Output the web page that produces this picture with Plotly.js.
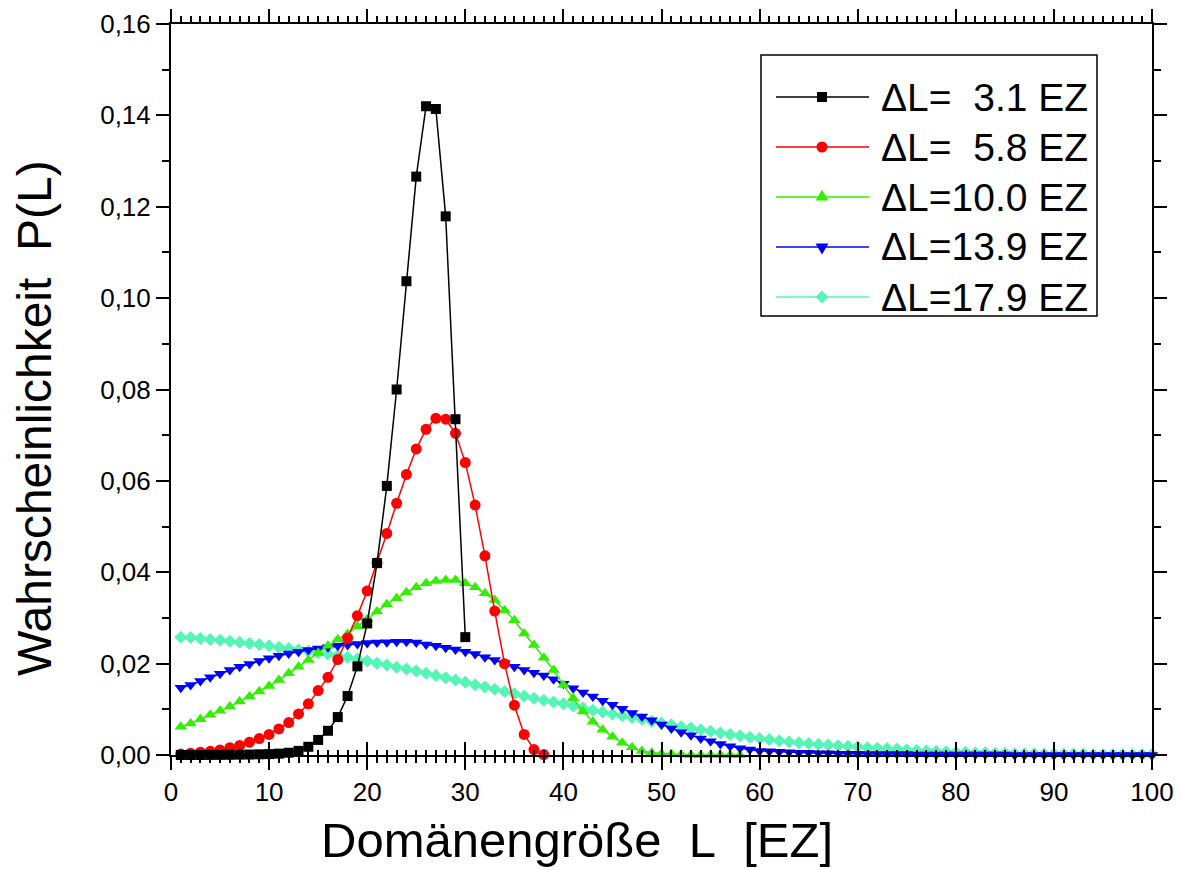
<!DOCTYPE html>
<html><head><meta charset="utf-8">
<script src="https://cdn.plot.ly/plotly-3.0.1.min.js"></script>
<style>html,body{margin:0;padding:0;background:#fff}#chart{width:1183px;height:870px}</style>
</head><body><div id="chart"></div>
<script>
// Domain size L [EZ]
const domainSize = [1,2,3,4,5,6,7,8,9,10,11,12,13,14,15,16,17,18,19,20,21,22,23,24,25,26,27,28,29,30,
  31,32,33,34,35,36,37,38,39,40,41,42,43,44,45,46,47,48,49,50,51,52,53,54,55,56,57,58,59,60,
  61,62,63,64,65,66,67,68,69,70,71,72,73,74,75,76,77,78,79,80,81,82,83,84,85,86,87,88,89,90,
  91,92,93,94,95,96,97,98,99,100];

const seriesNames = ['\u0394L=\u00a0\u00a03.1 EZ','\u0394L=\u00a0\u00a05.8 EZ','\u0394L=10.0 EZ','\u0394L=13.9 EZ','\u0394L=17.9 EZ'];

const p_dL3_1 = [0,0,0,0.00002,0.00003,0.00005,0.00008,0.0001,0.00015,0.0002,0.0003,0.0005,0.0009,0.0018,0.0033,
  0.0053,0.0083,0.0129,0.0194,0.0288,0.0420,0.0589,0.0800,0.1037,0.1266,0.1420,0.1414,0.1179,0.0735,0.0258];

const p_dL5_8 = [0.0002,0.0004,0.0006,0.0008,0.0011,0.0016,0.0021,0.0028,0.0036,0.0045,0.0057,0.0071,0.0090,0.0112,0.0141,
  0.0170,0.0209,0.0256,0.0305,0.0359,0.0421,0.0485,0.0551,0.0614,0.0670,0.0713,0.0737,0.0735,0.0704,0.0640,
  0.0547,0.0436,0.0315,0.0200,0.0109,0.0045,0.0012,0.0001];

const p_dL10_0 = [0.0062,0.0069,0.0078,0.0088,0.0097,0.0106,0.0117,0.0128,0.0139,0.0151,0.0164,0.0179,0.0193,0.0208,0.0223,
  0.0239,0.0253,0.0265,0.0282,0.0297,0.0314,0.0330,0.0343,0.0356,0.0367,0.0376,0.0381,0.0383,0.0383,0.0376,
  0.0367,0.0354,0.0339,0.0317,0.0295,0.0266,0.0241,0.0213,0.0186,0.0153,0.0124,0.0095,0.0073,0.0055,0.0040,
  0.0027,0.0017,0.0009,0.0005,0.0003,0.0002,0.0001,0,0,0,0,0,0];

const p_dL13_9 = [0.0147,0.0153,0.0162,0.0170,0.0178,0.0186,0.0193,0.0199,0.0206,0.0212,0.0217,0.0222,0.0226,0.0230,0.0233,
  0.0236,0.0239,0.0241,0.0243,0.0245,0.0246,0.0247,0.0248,0.0248,0.0246,0.0242,0.0239,0.0235,0.0231,0.0226,
  0.0221,0.0214,0.0208,0.0201,0.0193,0.0186,0.0180,0.0174,0.0166,0.0156,0.0146,0.0137,0.0128,0.0119,0.0110,
  0.0101,0.0092,0.0084,0.0076,0.0067,0.0058,0.0050,0.0043,0.0036,0.0030,0.0024,0.0019,0.0015,0.0012,0.0009,
  0.0008,0.0007,0.0006,0.0005,0.0005,0.0004,0.0004,0.0003,0.0003,0.0003,0.0002,0.0002,0.0002,0.0002,0.0002,
  0.0001,0.0001,0.0001,0.0001,0.0001,0.0001,0.0001,0.0001,0.0001,0.0001,0,0,0,0,0,
  0,0,0,0,0,0,0,0,0,0];

const p_dL17_9 = [0.0258,0.0257,0.0255,0.0253,0.0251,0.0249,0.0247,0.0244,0.0242,0.0239,0.0236,0.0233,0.0230,0.0227,0.0224,
  0.0221,0.0218,0.0214,0.0210,0.0206,0.0201,0.0197,0.0192,0.0188,0.0184,0.0179,0.0174,0.0169,0.0164,0.0159,
  0.0154,0.0149,0.0144,0.0139,0.0134,0.0129,0.0124,0.0120,0.0116,0.0112,0.0107,0.0103,0.0098,0.0094,0.0090,
  0.0086,0.0082,0.0078,0.0074,0.0070,0.0066,0.0062,0.0059,0.0055,0.0052,0.0048,0.0045,0.0042,0.0039,0.0036,
  0.0034,0.0031,0.0029,0.0027,0.0025,0.0023,0.0022,0.0020,0.0019,0.0018,0.0016,0.0015,0.0014,0.0013,0.0011,
  0.0010,0.0009,0.0008,0.0007,0.0006,0.0006,0.0005,0.0005,0.0004,0.0004,0.0003,0.0003,0.0003,0.0002,0.0002,
  0.0002,0.0002,0.0002,0.0001,0.0001,0.0001,0.0001,0.0001,0.0001,0.0001];

const seriesValues = [p_dL3_1, p_dL5_8, p_dL10_0, p_dL13_9, p_dL17_9];
const colors = ['#000000','#ff0000','#33ee00','#0000ff','#55f5b6'];
const symbols = ['square','circle','triangle-up','triangle-down','diamond'];
const markerSizes = [10,11,11,11,10];

const xTickVals = [0,10,20,30,40,50,60,70,80,90,100];
const xTickText = ['0','10','20','30','40','50','60','70','80','90','100'];
const yTickVals = [0,0.02,0.04,0.06,0.08,0.10,0.12,0.14,0.16];
const yTickText = ['0,00','0,02','0,04','0,06','0,08','0,10','0,12','0,14','0,16'];

const xTitle = 'Dom\u00e4nengr\u00f6\u00dfe\u00a0\u00a0L\u00a0\u00a0[EZ]';
const yTitle = 'Wahrscheinlichkeit\u00a0\u00a0P(L)';

// pixel geometry of the plot area
const W = 1183, H = 870;
const M = {l:171, r:31, t:24, b:115};
const pw = W - M.l - M.r, ph = H - M.t - M.b;
const px2x = p => (p - M.l) / pw;
const px2y = p => (H - M.b - p) / ph;

const traces = [];
// draw order: cyan at bottom, black on top
for (let i = seriesValues.length - 1; i >= 0; i--) {
  const v = seriesValues[i];
  traces.push({
    type:'scatter', mode:'lines+markers', name: seriesNames[i],
    x: domainSize.slice(0, v.length), y: v,
    line:{color: colors[i], width:1.5},
    marker:{symbol: symbols[i], size: markerSizes[i], color: colors[i], line:{width:0}},
    cliponaxis:false, showlegend:false, hoverinfo:'x+y'
  });
}
// helper trace for the inner (crossing) ticks of the bottom axis
traces.push({type:'scatter', x:[], y:[], xaxis:'x2', yaxis:'y', showlegend:false, hoverinfo:'skip'});

const shapes = [];
const annotations = [];
// legend box
shapes.push({type:'rect', xref:'paper', yref:'paper', x0:px2x(761), x1:px2x(1097), y0:px2y(316), y1:px2y(55),
  line:{color:'#000', width:1.5}, fillcolor:'rgba(255,255,255,1)', layer:'above'});
const rowY = [97, 147, 197, 247, 297];
const markerPaths = [
  'M-5,-5H5V5H-5Z',
  null,
  'M-6.5,-3.5L6.5,-3.5L0,7.5Z',
  'M-6.5,3.5L6.5,3.5L0,-7.5Z',
  'M0,-6.5L6.5,0L0,6.5L-6.5,0Z'
];
for (let i = 0; i < 5; i++) {
  const yp = px2y(rowY[i]);
  shapes.push({type:'line', xref:'paper', yref:'paper', x0:px2x(776), x1:px2x(869), y0:yp, y1:yp,
    line:{color: colors[i], width:1.5}, layer:'above'});
  if (markerPaths[i]) {
    shapes.push({type:'path', xref:'paper', yref:'paper', xsizemode:'pixel', ysizemode:'pixel',
      xanchor:px2x(822), yanchor:yp, path: markerPaths[i], fillcolor: colors[i], line:{width:0}, layer:'above'});
  } else {
    shapes.push({type:'circle', xref:'paper', yref:'paper', xsizemode:'pixel', ysizemode:'pixel',
      xanchor:px2x(822), yanchor:yp, x0:-5.5, x1:5.5, y0:-5.5, y1:5.5, fillcolor: colors[i], line:{width:0}, layer:'above'});
  }
  annotations.push({xref:'paper', yref:'paper', x:px2x(879), y:yp, xanchor:'left', yanchor:'middle',
    text: seriesNames[i], showarrow:false, font:{size:39, color:'#000'}});
}
// axis titles
annotations.push({xref:'paper', yref:'paper', x:px2x(577), y:px2y(840), xanchor:'center', yanchor:'middle',
  text: xTitle, showarrow:false, font:{size:49, color:'#000'}});
annotations.push({xref:'paper', yref:'paper', x:px2x(34), y:px2y(418), xanchor:'center', yanchor:'middle',
  text: yTitle, textangle:-90, showarrow:false, font:{size:48, color:'#000'}});

const axisCommon = {showgrid:false, zeroline:false, color:'#000', linecolor:'#000', tickcolor:'#000'};

const layout = {
  width:W, height:H, margin:M, paper_bgcolor:'#fff', plot_bgcolor:'#fff',
  font:{family:'"Liberation Sans", Arial, sans-serif', color:'#000'},
  showlegend:false,
  xaxis: Object.assign({}, axisCommon, {
    range:[0,100], showline:true, linewidth:2, mirror:'ticks',
    tickmode:'array', tickvals:xTickVals, ticktext:xTickText,
    ticks:'outside', ticklen:13, tickwidth:2, ticklabelstandoff:0,
    tickfont:{size:26},
    minor:{dtick:1, tick0:0, ticks:'outside', ticklen:6, tickwidth:2, tickcolor:'#000', showgrid:false}
  }),
  xaxis2: Object.assign({}, axisCommon, {
    range:[0,100], overlaying:'x', anchor:'y', side:'bottom', showline:false,
    tickmode:'array', tickvals:xTickVals, ticks:'inside', ticklen:13, tickwidth:2, showticklabels:false,
    minor:{dtick:1, tick0:0, ticks:'inside', ticklen:5, tickwidth:2, tickcolor:'#000', showgrid:false}
  }),
  yaxis: Object.assign({}, axisCommon, {
    range:[0,0.16], showline:true, linewidth:2, mirror:'ticks',
    tickmode:'array', tickvals:yTickVals, ticktext:yTickText,
    ticks:'outside', ticklen:13, tickwidth:2, tickfont:{size:26},
    minor:{dtick:0.01, tick0:0, ticks:'outside', ticklen:7, tickwidth:2, tickcolor:'#000', showgrid:false}
  }),
  shapes: shapes,
  annotations: annotations
};

Plotly.newPlot('chart', traces, layout, {displayModeBar:false, staticPlot:true});
</script>
</body></html>
